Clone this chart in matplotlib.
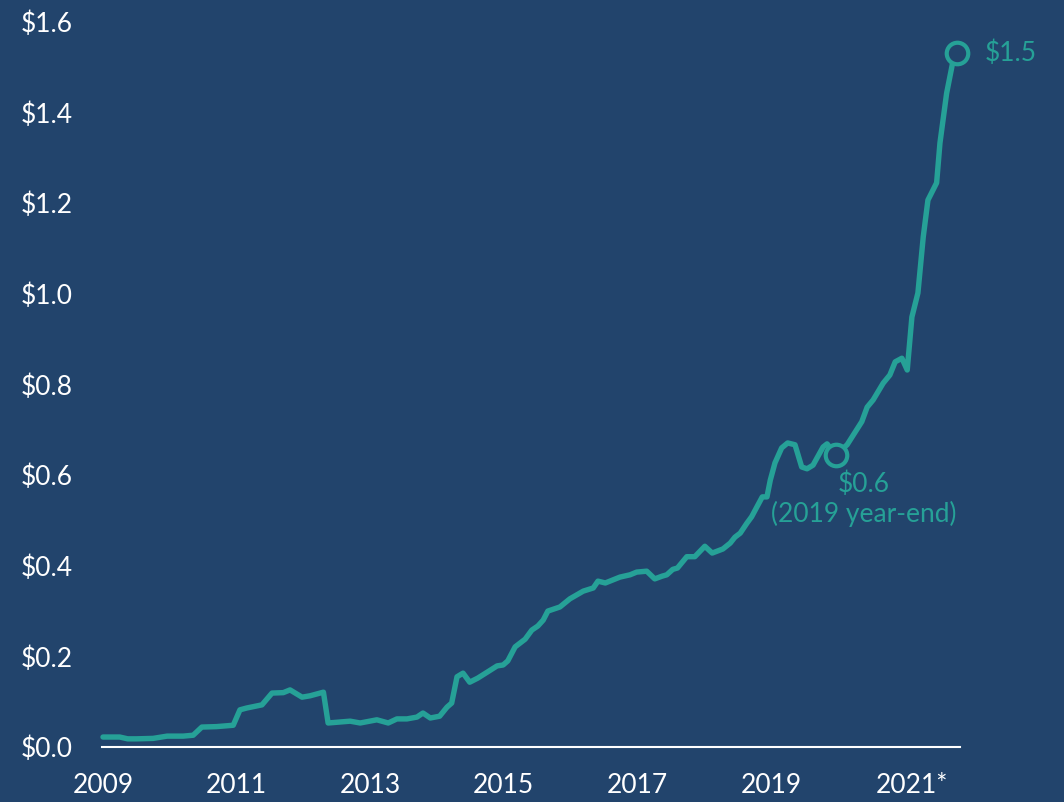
import matplotlib
matplotlib.use("Agg")
import matplotlib.pyplot as plt
import matplotlib.transforms as mtransforms

# values ($ trillions, decimal year)
years = [2009.0, 2009.25, 2009.37, 2009.5, 2009.75, 2009.96, 2010.2, 2010.35, 2010.48, 2010.7,
         2010.95, 2011.05, 2011.15, 2011.38, 2011.53, 2011.7, 2011.8, 2011.98, 2012.1, 2012.3,
         2012.37, 2012.7, 2012.85, 2013.1, 2013.27, 2013.4, 2013.55, 2013.7, 2013.79, 2013.9,
         2014.04, 2014.15, 2014.22, 2014.3, 2014.39, 2014.49, 2014.61, 2014.75, 2014.9, 2014.99,
         2015.06, 2015.17, 2015.32, 2015.42, 2015.51, 2015.59, 2015.66, 2015.84, 2015.99, 2016.19,
         2016.34, 2016.41, 2016.52, 2016.74, 2016.89, 2016.99, 2017.14, 2017.26, 2017.37, 2017.44,
         2017.53, 2017.6, 2017.74, 2017.86, 2018.01, 2018.12, 2018.28, 2018.39, 2018.46, 2018.54,
         2018.64, 2018.71, 2018.87, 2018.94, 2018.99, 2019.06, 2019.16, 2019.25, 2019.36, 2019.46,
         2019.54, 2019.63, 2019.78, 2019.84, 2019.97, 2020.14, 2020.36, 2020.44, 2020.53, 2020.68,
         2020.78, 2020.86, 2020.96, 2021.04, 2021.11, 2021.2, 2021.28, 2021.35, 2021.48, 2021.53,
         2021.63, 2021.72, 2021.78]
values = [0.022, 0.022, 0.018, 0.018, 0.019, 0.024, 0.024, 0.026, 0.044, 0.045,
          0.048, 0.082, 0.086, 0.093, 0.119, 0.120, 0.126, 0.110, 0.113, 0.121,
          0.053, 0.057, 0.053, 0.060, 0.053, 0.062, 0.062, 0.066, 0.075, 0.064,
          0.068, 0.088, 0.097, 0.155, 0.163, 0.143, 0.152, 0.165, 0.179, 0.181,
          0.190, 0.221, 0.238, 0.258, 0.267, 0.280, 0.300, 0.309, 0.327, 0.344,
          0.351, 0.366, 0.362, 0.375, 0.380, 0.386, 0.388, 0.371, 0.377, 0.380,
          0.392, 0.395, 0.420, 0.420, 0.443, 0.428, 0.437, 0.450, 0.463, 0.472,
          0.494, 0.508, 0.552, 0.552, 0.589, 0.627, 0.660, 0.671, 0.667, 0.618,
          0.614, 0.622, 0.662, 0.669, 0.645, 0.667, 0.718, 0.750, 0.766, 0.803,
          0.821, 0.850, 0.858, 0.832, 0.949, 1.002, 1.126, 1.207, 1.245, 1.333,
          1.443, 1.510, 1.532]

ytick_vals = [0.0, 0.2, 0.4, 0.6, 0.8, 1.0, 1.2, 1.4, 1.6]
ytick_labels = ["$0.0", "$0.2", "$0.4", "$0.6", "$0.8", "$1.0", "$1.2", "$1.4", "$1.6"]
xtick_vals = [2009, 2011, 2013, 2015, 2017, 2019, 2021]
xtick_labels = ["2009", "2011", "2013", "2015", "2017", "2019", "2021*"]

yearend_x, yearend_y = 2019.97, 0.645
last_x, last_y = 2021.78, 1.532

bg = "#22446C"
teal = "#26A197"

plt.rcParams['font.family'] = ['Lato', 'DejaVu Sans']

fig = plt.figure(figsize=(10.64, 8.02), dpi=100, facecolor=bg)
ax = fig.add_axes([102/1064, 55/802, 858/1064, 725/802], facecolor=bg)

ax.plot(years, values, color=teal, lw=3.9, solid_joinstyle='round', solid_capstyle='round',
        clip_on=False, zorder=3)
for px, py in [(yearend_x, yearend_y), (last_x, last_y)]:
    ax.plot([px], [py], 'o', ms=15.5, mfc=bg, mec=teal, mew=3.0, clip_on=False, zorder=4)

ax.annotate("$1.5", xy=(last_x, last_y), xytext=(20, 0), textcoords='offset points',
            color=teal, fontsize=19, ha='left', va='center')
ax.annotate("$0.6\n(2019 year-end)", xy=(yearend_x, yearend_y), xytext=(20, -12),
            textcoords='offset points', color=teal, fontsize=19, ha='center', va='top',
            linespacing=1.2)

ax.set_xlim(2008.985, 2021.83)
ax.set_ylim(0, 1.6)
ax.set_yticks(ytick_vals)
ax.set_yticklabels(ytick_labels)
ax.set_xticks(xtick_vals)
ax.set_xticklabels(xtick_labels)
ax.tick_params(axis='both', length=0, colors='white', labelsize=19)
ax.tick_params(axis='y', pad=21)
ax.tick_params(axis='x', pad=19)
for t in ax.get_yticklabels():
    t.set_horizontalalignment('right')
# nudge "2021*" so the number sits under its year
lab = ax.get_xticklabels()[-1]
lab.set_transform(lab.get_transform() + mtransforms.ScaledTranslation(7/100, 0, fig.dpi_scale_trans))

for s in ['left', 'right', 'top']:
    ax.spines[s].set_visible(False)
ax.spines['bottom'].set_color('white')
ax.spines['bottom'].set_linewidth(1.5)

fig.savefig("out.png", dpi=100, facecolor=bg)
